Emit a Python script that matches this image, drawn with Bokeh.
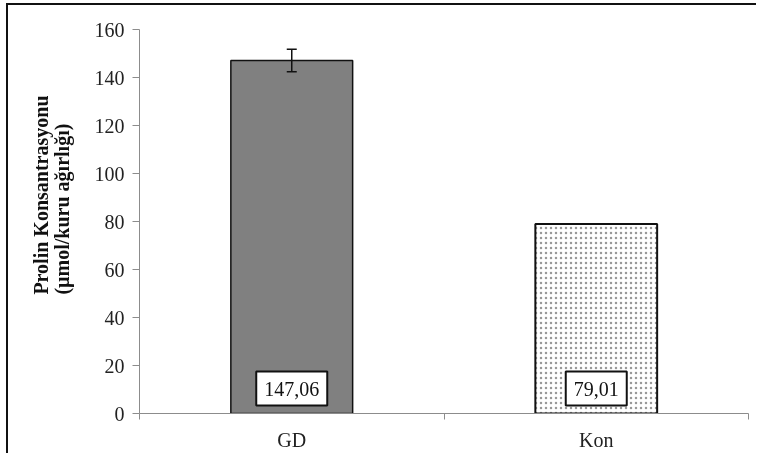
from bokeh.plotting import figure
from bokeh.models import (ColumnDataSource, Whisker, TeeHead, Label, FixedTicker,
                          Range1d, Title)
from bokeh.embed import file_html
from bokeh.resources import INLINE

# ---- data ----
categories = ["GD", "Kon"]
values = [147.06, 79.01]
errors = [4.7, 0.0]
value_labels = ["147,06", "79,01"]
y_ticks = [0, 20, 40, 60, 80, 100, 120, 140, 160]
y_label = "Prolin Konsantrasyonu\n(µmol/kuru ağırlığı)"

FONT = "Liberation Serif"
xs = [i + 0.5 for i in range(len(categories))]

p = figure(width=750, height=450, output_backend="svg", toolbar_location=None,
           x_range=Range1d(0, len(categories)), y_range=Range1d(0, 160),
           min_border_left=131, min_border_right=10, min_border_top=24,
           min_border_bottom=42, background_fill_color="white",
           border_fill_color="white", outline_line_color=None)
p.styles = {"position": "fixed", "top": "5px", "left": "8px",
            "box-shadow": "-2px -2px 0px 0px #111111"}
p.grid.visible = False

# bars
p.vbar(x=[xs[0]], top=[values[0]], width=0.4, fill_color="#808080",
       line_color="#111111", line_width=1.5)
p.vbar(x=[xs[1]], top=[values[1]], width=0.4, fill_color="white",
       line_color="#111111", line_width=2, hatch_pattern="dot",
       hatch_color="#999999", hatch_scale=5, hatch_weight=1)

# error bar
src = ColumnDataSource(dict(x=xs[:1], lower=[values[0] - errors[0]],
                            upper=[values[0] + errors[0]]))
w = Whisker(source=src, base="x", lower="lower", upper="upper", level="overlay",
            line_color="#111111", line_width=1.5,
            upper_head=TeeHead(size=10, line_color="#111111", line_width=1.5),
            lower_head=TeeHead(size=10, line_color="#111111", line_width=1.5))
p.add_layout(w)

# value labels in boxes
for x, t in zip(xs, value_labels):
    p.add_layout(Label(x=x, y=0, y_offset=8, text=t, text_align="center",
                       text_baseline="bottom", text_font=FONT,
                       text_font_size="20px", text_color="#111111",
                       background_fill_color="white", border_line_color="#111111",
                       border_line_width=2, padding=(8, 10)))

# axes
ax = p.yaxis[0]
ax.ticker = FixedTicker(ticks=y_ticks)
ax.axis_line_color = "#8c8c8c"
ax.major_tick_line_color = "#8c8c8c"
ax.major_tick_out = 7
ax.major_tick_in = 0
ax.minor_tick_line_color = None
ax.major_label_text_font = FONT
ax.major_label_text_font_size = "20px"
ax.major_label_text_color = "#222222"
ax.major_label_standoff = 8

bx = p.xaxis[0]
bx.ticker = FixedTicker(ticks=xs, minor_ticks=list(range(len(categories) + 1)))
bx.major_label_overrides = {x: c for x, c in zip(xs, categories)}
bx.axis_line_color = "#8c8c8c"
bx.major_tick_line_color = None
bx.major_tick_out = 6
bx.minor_tick_line_color = "#8c8c8c"
bx.minor_tick_out = 6
bx.minor_tick_in = 0
bx.major_label_text_font = FONT
bx.major_label_text_font_size = "20px"
bx.major_label_text_color = "#222222"
bx.major_label_standoff = 9

# y axis title: two rotated lines as one left-side title, anchored near the top
p.add_layout(Title(text=y_label, align="right", offset=66, standoff=37,
                   text_font=FONT, text_font_size="20px", text_line_height=0.95,
                   text_font_style="bold", text_color="#111111"), "left")

open("out.html", "w").write(file_html(p, INLINE))
